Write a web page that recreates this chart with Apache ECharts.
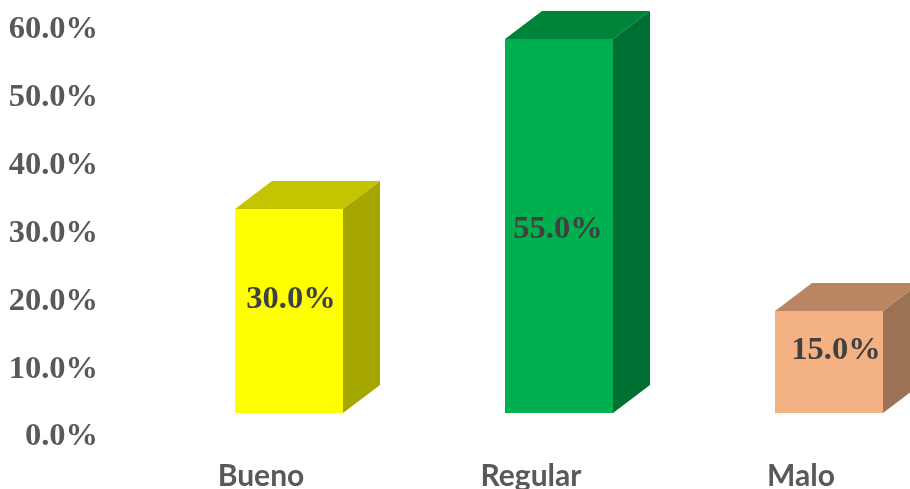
<!DOCTYPE html>
<html><head><meta charset="utf-8">
<style>html,body{margin:0;padding:0;background:#fff}#c{width:910px;height:489px}</style>
<script src="https://cdn.jsdelivr.net/npm/echarts@6/dist/echarts.min.js"></script>
</head><body><div id="c"></div>
<script>
const categories = ['Bueno', 'Regular', 'Malo'];
const values = [30, 55, 15];
const tickStep = 10;
const axisMax = 60;
const frontColors = ['#FFFF00', '#00B050', '#F4B183'];
const topColors = ['#C4C400', '#008439', '#B98562'];
const sideColors = ['#A6A600', '#006F32', '#9C7254'];
const labelShift = [[2, -11], [-1, 4], [7, -11]];
const DX = 37, DY = 28;

const chart = echarts.init(document.getElementById('c'), null, {renderer: 'canvas'});
chart.setOption({
  animation: false,
  backgroundColor: '#fff',
  grid: [
    {left: 154, width: 810, top: 5, height: 408, outerBoundsMode: 'none'},
    {left: 126, width: 810, top: 30, height: 407, outerBoundsMode: 'none'}
  ],
  xAxis: [
    {gridIndex: 0, type: 'category', data: categories, show: false},
    {gridIndex: 1, type: 'category', data: categories,
     axisLine: {show: false}, axisTick: {show: false},
     axisLabel: {margin: 39, color: '#595959', fontFamily: 'Lato', fontWeight: 'bold', fontSize: 30, verticalAlign: 'middle', interval: 0}}
  ],
  yAxis: [
    {gridIndex: 0, type: 'value', min: 0, max: axisMax, interval: tickStep, show: false},
    {gridIndex: 1, type: 'value', min: 0, max: axisMax, interval: tickStep,
     axisLine: {show: false}, axisTick: {show: false}, splitLine: {show: false},
     axisLabel: {margin: 28, color: '#595959', fontFamily: 'Liberation Serif', fontWeight: 'bold', fontSize: 32.5,
       formatter: v => v.toFixed(1) + '%'}}
  ],
  series: [{
    type: 'custom',
    xAxisIndex: 0, yAxisIndex: 0,
    clip: false,
    data: values,
    renderItem: function (params, api) {
      const i = params.dataIndex;
      const val = api.value(1);
      const top = api.coord([i, val]);
      const base = api.coord([i, 0]);
      const w = api.size([1, 0])[0] * 0.4;
      const l = top[0] - w / 2, r = top[0] + w / 2, t = top[1], b = base[1];
      const s = labelShift[i];
      return {type: 'group', children: [
        {type: 'polygon', shape: {points: [[l, t], [r, t], [r + DX, t - DY], [l + DX, t - DY]]}, style: {fill: topColors[i]}},
        {type: 'polygon', shape: {points: [[r, t], [r + DX, t - DY], [r + DX, b - DY], [r, b]]}, style: {fill: sideColors[i]}},
        {type: 'rect', shape: {x: l, y: t, width: w, height: b - t}, style: {fill: frontColors[i]}},
        {type: 'text', x: top[0] + s[0], y: (t + b) / 2 + s[1],
         style: {text: val.toFixed(1) + '%', fill: '#404040', font: 'bold 32.5px "Liberation Serif"', align: 'center', verticalAlign: 'middle'}}
      ]};
    },
    encode: {x: 0, y: 1}
  }]
});
</script></body></html>
